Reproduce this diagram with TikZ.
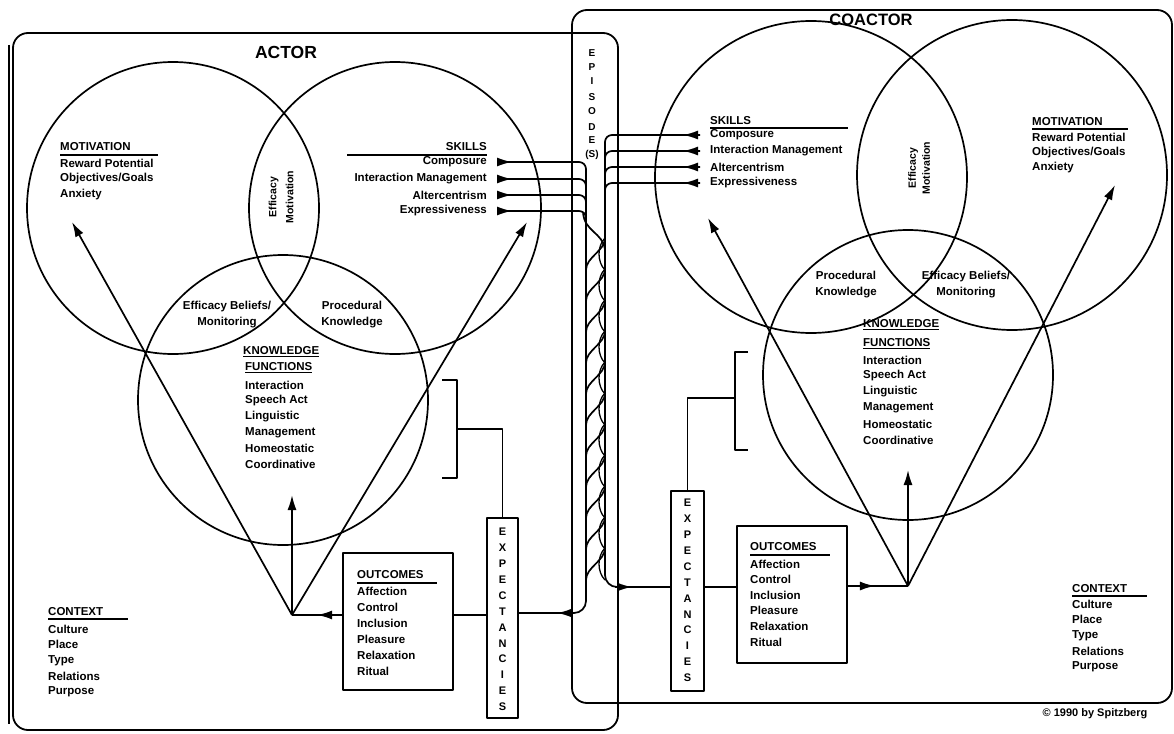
\documentclass[tikz,border=0pt]{standalone}
\usepackage{fontspec}
\setmainfont{Liberation Sans}
\usetikzlibrary{arrows.meta,decorations.markings}

\begin{document}
\begin{tikzpicture}[x=1pt,y=-1pt,line join=round,
  frame/.style={line width=1.8pt, rounded corners=15pt},
  ring/.style={draw, circle, line width=1.7pt, inner sep=0pt},
  wire/.style={line width=1.7pt},
  uline/.style={line width=1.1pt},
  tip/.style={-{Latex[length=15pt,width=9pt]}, line width=1.7pt},
  midtip/.style={postaction={decorate}, decoration={markings,
      mark=at position #1 with {\arrow{Latex[length=15pt,width=9pt]}}}},
  lbl/.style={font=\fontsize{11.5}{16}\selectfont\bfseries, inner sep=0pt},
  lblL/.style={lbl, anchor=west},
  lblR/.style={lbl, anchor=east},
  lens/.style={font=\fontsize{10.5}{17}\selectfont\bfseries, inner sep=0pt, align=center},
  boxed/.style={draw, line width=1.7pt, inner sep=0pt},
  letter/.style={font=\fontsize{11}{11}\selectfont\bfseries, inner sep=0pt},
  title/.style={font=\fontsize{17.5}{18}\selectfont\bfseries, inner sep=0pt},
]
\useasboundingbox (0,0) rectangle (1174,733);

% ---------- frames ----------
\draw[frame] (13,33) rectangle (618,730);
\draw[frame] (572,10) rectangle (1172,703);
\draw[line width=2.2pt] (9,45) -- (9,724);

\node[title] (actorT) at (286,52) {ACTOR};
\node[title, font=\fontsize{16.5}{17}\selectfont\bfseries] (coactorT) at (871,20) {COACTOR};

% ---------- actor circles ----------
\node[ring, minimum size=292pt] (amotC) at (173,208) {};
\node[ring, minimum size=292pt] (askC) at (395,208) {};
\node[ring, minimum size=290pt] (aknC) at (283,400) {};

% ---------- coactor circles ----------
\node[ring, minimum size=312pt] (cskC) at (811,177) {};
\node[ring, minimum size=310pt] (cmotC) at (1012,175) {};
\node[ring, minimum size=290pt] (cknC) at (908,375) {};

% ---------- actor texts ----------
\node[lblL] (amotH) at (60,147) {MOTIVATION};
\draw[uline] (60,155) -- (158,155);
\foreach \t [count=\i from 0] in {Reward Potential, Objectives/Goals, Anxiety}
  \node[lblL] (amot\i) at (60,163+16*\i) {\t};

\node[lblR] (askH) at (487,147) {SKILLS};
\draw[uline] (347,155) -- (487,155);
\node[lblR] (ask0) at (487,162) {Composure};
\node[lblR] (ask1) at (487,179) {Interaction Management};
\node[lblR] (ask2) at (487,195) {Altercentrism};
\node[lblR] (ask3) at (487,211) {Expressiveness};

\node[lens, rotate=90] (aeffmot) at (281,197) {Efficacy\\Motivation};
\node[lbl, align=center] (aeffbel) at (227,315) {Efficacy Beliefs/\\Monitoring};
\node[lbl, align=center] (aproc) at (352,315) {Procedural\\Knowledge};

\node[lblL] (aknH1) at (243,352) {\underline{KNOWLEDGE}};
\node[lblL] (aknH2) at (245,368) {\underline{FUNCTIONS}};
\foreach \t [count=\i from 0] in {Interaction, Speech Act, Linguistic, Management, Homeostatic, Coordinative}
  \node[lblL] (akn\i) at (245,385+15.8*\i) {\t};

\node[lblL] (actxH) at (48,612) {CONTEXT};
\draw[uline] (48,619) -- (128,619);
\foreach \t [count=\i from 0] in {Culture, Place, Type, Relations, Purpose}
  \node[lblL] (actx\i) at (48,629+15.8*\i) {\t};

% ---------- coactor texts ----------
\node[lblL] (cskH) at (710,121) {SKILLS};
\draw[uline] (710,128) -- (848,128);
\node[lblL] (csk0) at (710,135) {Composure};
\node[lblL] (csk1) at (710,151) {Interaction Management};
\node[lblL] (csk2) at (710,167) {Altercentrism};
\node[lblL] (csk3) at (710,183) {Expressiveness};

\node[lblL] (cmotH) at (1032,122) {MOTIVATION};
\draw[uline] (1032,129) -- (1128,129);
\foreach \t [count=\i from 0] in {Reward Potential, Objectives/Goals, Anxiety}
  \node[lblL] (cmot\i) at (1032,137+15.5*\i) {\t};

\node[lens, rotate=90, font=\fontsize{10.5}{14}\selectfont\bfseries] (ceffmot) at (919,168) {Efficacy\\Motivation};
\node[lbl, align=center] (cproc) at (846,285) {Procedural\\Knowledge};
\node[lbl, align=center] (ceffbel) at (966,285) {Efficacy Beliefs/\\Monitoring};

\node[lblL] (cknH1) at (863,325) {\underline{KNOWLEDGE}};
\node[lblL] (cknH2) at (863,344) {\underline{FUNCTIONS}};
\foreach \t [count=\i from 0] in {Interaction, Speech Act, Linguistic, Management, Homeostatic, Coordinative}
  \node[lblL] (ckn\i) at (863,360+16*\i) {\t};

\node[lblL] (cctxH) at (1072,589) {CONTEXT};
\draw[uline] (1072,596) -- (1147,596);
\foreach \t [count=\i from 0] in {Culture, Place, Type, Relations, Purpose}
  \node[lblL] (cctx\i) at (1072,604+15.8*\i) {\t};

\node[font=\fontsize{11}{11}\selectfont\bfseries, inner sep=0pt] (copy) at (1095,714) {\textcopyright\ 1990 by Spitzberg};

% ---------- episodes channel ----------
\foreach \t/\yy in {E/53, P/67, I/81, S/97, O/111, D/127, E/140, (S)/155}
  \node[letter, font=\fontsize{10}{10}\selectfont\bfseries] at (592,\yy) {\t};

\coordinate (chLtop) at (586,228);
\coordinate (chLbot) at (586,613);
\coordinate (chRtop) at (605,200);
\coordinate (chRbot) at (605,587);

% braided strands between the two channel walls
\foreach \k in {0,...,10} {
  \draw[wire] (586,270+31*\k) .. controls (586,257+31*\k) and (605,251+31*\k) .. (605,238+31*\k);
  \draw[line width=1.3pt] (605,270+31*\k) .. controls (597,262+31*\k) and (597,246+31*\k) .. (605,238+31*\k);
}
\draw[wire] (583,212) .. controls (584,232) and (603,232) .. (605,250);

% ---------- outcomes & expectancies ----------
\node[boxed, minimum width=110pt, minimum height=137pt] (outA) at (398,621.5) {};
\node[lblL] (aoutH) at (357,575) {OUTCOMES};
\draw[uline] (357,583) -- (437,583);
\foreach \t [count=\i from 0] in {Affection, Control, Inclusion, Pleasure, Relaxation, Ritual}
  \node[lblL] (aout\i) at (357,591+16*\i) {\t};

\node[boxed, minimum width=31pt, minimum height=200pt] (expA) at (502.5,618) {};
\foreach \t [count=\i from 0] in {E,X,P,E,C,T,A,N,C,I,E,S}
  \node[letter] at (502.5,532+15.9*\i) {\t};

\node[boxed, minimum width=110pt, minimum height=137pt] (outC) at (792,594.5) {};
\node[lblL] (coutH) at (750,547) {OUTCOMES};
\draw[uline] (750,555) -- (830,555);
\foreach \t [count=\i from 0] in {Affection, Control, Inclusion, Pleasure, Relaxation, Ritual}
  \node[lblL] (cout\i) at (750,564+15.6*\i) {\t};

\node[boxed, minimum width=33pt, minimum height=200pt] (expC) at (687.5,591) {};
\foreach \t [count=\i from 0] in {E,X,P,E,C,T,A,N,C,I,E,S}
  \node[letter] at (687.5,503+15.9*\i) {\t};

% ---------- brackets ----------
\draw[wire] (442,380) -- (457,380) -- (457,478) -- (442,478);
\coordinate (brA) at (457,429);
\draw[wire] (brA) -| (expA.north);
\draw[wire] (748,352) -- (735,352) -- (735,450) -- (748,450);
\coordinate (brC) at (735,398);
\draw[wire] (brC) -| (expC.north);

% ---------- actor fan ----------
\coordinate (baseA) at (292,615);
\coordinate (aMotTip) at (72,222);
\coordinate (aSkTip) at (527,222);
\coordinate (aKnTip) at (292,495);
\draw[tip] (baseA) -- (aMotTip);
\draw[tip] (baseA) -- (aSkTip);
\draw[tip] (baseA) -- (aKnTip);
\draw[wire, midtip=0.5] (outA.west |- baseA) -- (baseA);
\draw[wire] (outA.east |- baseA) -- (expA.west |- baseA);

% ---------- coactor fan ----------
\coordinate (baseC) at (908,586);
\coordinate (cSkTip) at (708,218);
\coordinate (cMotTip) at (1115,185);
\coordinate (cKnTip) at (908,470);
\draw[tip] (baseC) -- (cSkTip);
\draw[tip] (baseC) -- (cMotTip);
\draw[tip] (baseC) -- (cKnTip);
\draw[wire, midtip=0.45] (outC.east |- baseC) -- (baseC);
\draw[wire] (expC.east |- chRbot) -- (outC.west |- chRbot);

% ---------- skills into the episodes ----------
\foreach \i in {0,...,3} {
  \draw[wire, rounded corners=7pt] ([xshift=10pt]ask\i.east) -- (ask\i.east -| chLtop) -- (chLtop);
  \draw[tip] ([xshift=10pt]ask\i.east) -- ([xshift=25pt]ask\i.east);
  \draw[wire, rounded corners=7pt] ([xshift=-10pt]csk\i.west) -- (csk\i.west -| chRtop) -- (chRtop);
  \draw[tip] ([xshift=-10pt]csk\i.west) -- ([xshift=-27pt]csk\i.west);
}

% ---------- episodes down to the expectancies ----------
\draw[wire, rounded corners=12pt] (chLtop) -- (chLbot) -- (chLbot -| expA.east);
\draw[tip] ([xshift=-12pt]chLbot) -- ([xshift=-29pt]chLbot);
\draw[wire, rounded corners=12pt] (chRtop) -- (chRbot) -- (chRbot -| expC.west);
\draw[tip] ([xshift=10pt]chRbot) -- ([xshift=27pt]chRbot);

\end{tikzpicture}
\end{document}
